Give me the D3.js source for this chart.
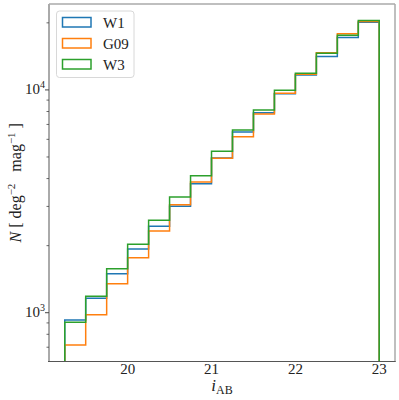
<!DOCTYPE html>
<html>
<head>
<meta charset="utf-8">
<script src="https://cdn.jsdelivr.net/npm/d3@7/dist/d3.min.js"></script>
<style>
  body { margin: 0; background: #fff; }
  svg text { font-family: "Liberation Serif", "Times New Roman", Times, serif; fill: #222; }
</style>
</head>
<body>
<svg id="chart" width="399" height="400" font-family="Liberation Serif, Times New Roman, serif"></svg>
<script>
// bin edges (i_AB)
const edges = [19.25, 19.5, 19.75, 20.0, 20.25, 20.5, 20.75, 21.0, 21.25, 21.5, 21.75, 22.0, 22.25, 22.5, 22.75, 23.0];
// counts per bin, N [deg^-2 mag^-1]
const w1  = [927, 1160, 1497, 1932, 2444, 3006, 3796, 4950, 6468, 7906, 9620, 11675, 14110, 17180, 20140];
const g09 = [716, 980, 1349, 1766, 2328, 3055, 3865, 4933, 6166, 7799, 9660, 11763, 14700, 17846, 20260];
const w3  = [906, 1185, 1576, 2028, 2600, 3308, 4121, 5305, 6607, 8131, 9970, 11884, 14625, 17605, 20470];
const seriesNames = ["W1", "G09", "W3"];
const xTicks = [20, 21, 22, 23];
const yMajor = [1e3, 1e4];

const colors = {W1: "#1f77b4", G09: "#ff7f0e", W3: "#2ca02c"};
const series = [
  {name: "W1", values: w1},
  {name: "G09", values: g09},
  {name: "W3", values: w3}
];

const svg = d3.select("#chart");
const m = {left: 49, right: 395, top: 4, bottom: 361.5};

const x = d3.scaleLinear().domain([19.0625, 23.1875]).range([m.left, m.right]);
const y = d3.scaleLog().domain([604, 24300]).range([m.bottom, m.top]);

svg.append("clipPath").attr("id", "clip")
  .append("rect").attr("x", m.left).attr("y", m.top)
  .attr("width", m.right - m.left).attr("height", m.bottom - m.top);

// histogram steps
const line = d3.line();
const g = svg.append("g").attr("clip-path", "url(#clip)");
series.forEach(s => {
  const pts = [[x(edges[0]), m.bottom + 5]];
  s.values.forEach((v, i) => {
    pts.push([x(edges[i]), y(v)]);
    pts.push([x(edges[i + 1]), y(v)]);
  });
  pts.push([x(edges[edges.length - 1]), m.bottom + 5]);
  g.append("path").attr("d", line(pts))
    .attr("fill", "none").attr("stroke", colors[s.name]).attr("stroke-width", 1.5)
    .attr("stroke-linejoin", "miter");
});

// frame
svg.append("line").attr("x1", m.left).attr("x2", m.right).attr("y1", m.top).attr("y2", m.top)
  .attr("stroke", "#aaa").attr("stroke-width", 1.5);
svg.append("line").attr("x1", m.right).attr("x2", m.right).attr("y1", m.top).attr("y2", m.bottom)
  .attr("stroke", "#aaa").attr("stroke-width", 1.5);
svg.append("line").attr("x1", m.left).attr("x2", m.left).attr("y1", m.top).attr("y2", m.bottom)
  .attr("stroke", "#aaa").attr("stroke-width", 2);
svg.append("line").attr("x1", m.left - 1).attr("x2", m.right + 0.75).attr("y1", m.bottom).attr("y2", m.bottom)
  .attr("stroke", "#555").attr("stroke-width", 1);

// x axis labels
xTicks.forEach(t => {
  svg.append("text").attr("x", x(t)).attr("y", 374)
    .attr("text-anchor", "middle").attr("font-size", 15).text(t);
});
const xl = svg.append("text").attr("x", (m.left + m.right) / 2).attr("y", 391)
  .attr("text-anchor", "middle").attr("font-size", 17);
xl.append("tspan").attr("font-style", "italic").text("i");
xl.append("tspan").attr("font-size", 12).attr("dy", 3).text("AB");

// y ticks
const minor = y.ticks().filter(v => !yMajor.includes(v) && y(v) <= m.bottom && y(v) >= m.top);
svg.selectAll(".ymin").data(minor).join("line")
  .attr("x1", m.left - 2.5).attr("x2", m.left).attr("y1", d => y(d)).attr("y2", d => y(d))
  .attr("stroke", "#444").attr("stroke-width", 0.8);
svg.selectAll(".ymaj").data(yMajor).join("line")
  .attr("x1", m.left - 4).attr("x2", m.left).attr("y1", d => y(d)).attr("y2", d => y(d))
  .attr("stroke", "#444").attr("stroke-width", 1);
yMajor.forEach(v => {
  const t = svg.append("text").attr("x", m.left - 4).attr("y", y(v) + 4.5)
    .attr("text-anchor", "end").attr("font-size", 15);
  t.append("tspan").text("10");
  t.append("tspan").attr("font-size", 10).attr("dy", -6).text(Math.round(Math.log10(v)));
});

// y label
const yl = svg.append("text").attr("transform", "translate(21," + ((m.top + m.bottom) / 2) + ") rotate(-90)")
  .attr("text-anchor", "middle").attr("font-size", 16);
yl.append("tspan").attr("font-style", "italic").text("N");
yl.append("tspan").text(" [ deg");
yl.append("tspan").attr("font-size", 11).attr("dy", -6).text("\u22122");
yl.append("tspan").attr("dy", 6).text("\u00a0\u00a0 mag");
yl.append("tspan").attr("font-size", 11).attr("dy", -6).text("\u22121");
yl.append("tspan").attr("dy", 6).text(" ]");

// legend
const lg = svg.append("g");
lg.append("rect").attr("x", 56.5).attr("y", 11).attr("width", 77.5).attr("height", 66.5)
  .attr("rx", 3).attr("fill", "#fff").attr("fill-opacity", 0.8)
  .attr("stroke", "#d8d8d8").attr("stroke-width", 1);
seriesNames.forEach((n, i) => {
  const yy = 17.5 + i * 21;
  lg.append("rect").attr("x", 62.5).attr("y", yy).attr("width", 28.5).attr("height", 9.5)
    .attr("fill", "none").attr("stroke", colors[n]).attr("stroke-width", 1.5);
  lg.append("text").attr("x", 103).attr("y", yy + 10).attr("font-size", 15).text(n);
});
</script>
</body>
</html>
